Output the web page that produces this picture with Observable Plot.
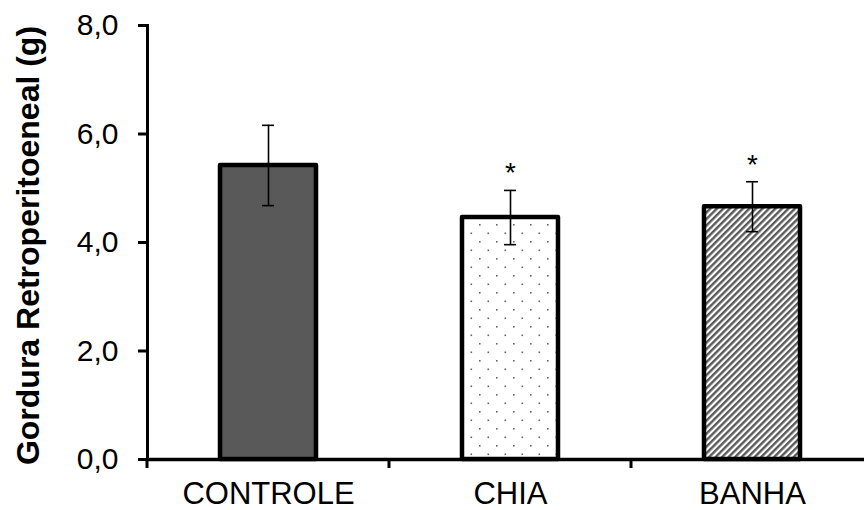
<!DOCTYPE html>
<html>
<head>
<meta charset="utf-8">
<script src="https://cdn.jsdelivr.net/npm/d3@7"></script>
<script src="https://cdn.jsdelivr.net/npm/@observablehq/plot@0.6"></script>
<style>
  html, body { margin: 0; padding: 0; background: white; }
  #chart { width: 864px; height: 510px; overflow: hidden; }
</style>
</head>
<body>
<div id="chart"></div>
<script>
const categories = ["CONTROLE", "CHIA", "BANHA"];
const means = [5.42, 4.46, 4.66];
const errors = [0.74, 0.50, 0.46];
const signif = ["", "*", "*"];
const yTicks = [0, 2, 4, 6, 8];
const yTitle = "Gordura Retroperitoeneal (g)";

const data = categories.map((c, i) => ({cat: c, mean: means[i], err: errors[i], sig: signif[i]}));
const font = "Liberation Sans, Arial, Helvetica, sans-serif";

const xTicksAtBoundaries = (index, scales) => {
  const g = d3.create("svg:g");
  const y0 = scales.y(0);
  for (const c of categories) {
    const x = scales.x(c);
    g.append("line").attr("x1", x).attr("x2", x).attr("y1", y0).attr("y2", y0 + 9)
      .attr("stroke", "black").attr("stroke-width", 3);
  }
  return g.node();
};

const chart = Plot.plot({
  width: 864,
  height: 510,
  marginTop: 25,
  marginBottom: 51,
  marginLeft: 147,
  marginRight: -9,
  style: {fontFamily: font, background: "white", overflow: "hidden"},
  x: {domain: categories, padding: 0, label: null},
  y: {domain: [0, 8], label: null},
  color: {domain: categories, range: ["#595959", "url(#dotsPat)", "url(#hatchPat)"]},
  marks: [
    Plot.barY(data, {x: "cat", y: "mean", fill: "cat", stroke: "black", strokeWidth: 4.5,
      strokeLinejoin: "round", insetLeft: 73, insetRight: 73}),
    Plot.ruleX(data, {x: "cat", y1: d => d.mean - d.err, y2: d => d.mean + d.err, stroke: "black", strokeWidth: 1.6}),
    Plot.tickY(data, {x: "cat", y: d => d.mean + d.err, stroke: "black", strokeWidth: 1.6, insetLeft: 115, insetRight: 115}),
    Plot.tickY(data, {x: "cat", y: d => d.mean - d.err, stroke: "black", strokeWidth: 1.6, insetLeft: 115, insetRight: 115}),
    Plot.text(data, {x: "cat", y: d => d.mean + d.err, text: "sig", dy: -8, lineAnchor: "bottom",
      fontSize: 28, fill: "black", fontFamily: font}),
    Plot.ruleY([0], {stroke: "black", strokeWidth: 3.5}),
    Plot.frame({anchor: "left", stroke: "black", strokeWidth: 3}),
    Plot.axisY({ticks: yTicks, tickFormat: d => d.toFixed(1).replace(".", ","), tickSize: 9,
      tickPadding: 20, fontSize: 30, strokeWidth: 3, label: null, fill: "black", color: "black"}),
    Plot.axisX({tickSize: 0, tickPadding: 22, fontSize: 31, label: null, fill: "black", color: "black"}),
    xTicksAtBoundaries,
    Plot.text([yTitle], {frameAnchor: "left", textAnchor: "middle", rotate: -90, dx: -119, dy: 3,
      fontWeight: "bold", fontSize: 32, fill: "black", fontFamily: font})
  ]
});

// pattern definitions for CHIA (dots) and BANHA (hatch)
const defs = d3.select(chart).insert("defs", ":first-child");
const dots = defs.append("pattern").attr("id", "dotsPat").attr("patternUnits", "userSpaceOnUse")
  .attr("width", 17).attr("height", 17);
dots.append("rect").attr("width", 17).attr("height", 17).attr("fill", "white");
dots.append("rect").attr("x", 3).attr("y", 3).attr("width", 1.6).attr("height", 1.6).attr("fill", "#666");
dots.append("rect").attr("x", 11.5).attr("y", 11.5).attr("width", 1.6).attr("height", 1.6).attr("fill", "#666");
const hatch = defs.append("pattern").attr("id", "hatchPat").attr("patternUnits", "userSpaceOnUse")
  .attr("width", 4.6).attr("height", 4.6).attr("patternTransform", "rotate(45)");
hatch.append("rect").attr("width", 4.6).attr("height", 4.6).attr("fill", "white");
hatch.append("rect").attr("width", 2.4).attr("height", 4.6).attr("fill", "#5a5a5a");

document.getElementById("chart").appendChild(chart);
</script>
</body>
</html>
